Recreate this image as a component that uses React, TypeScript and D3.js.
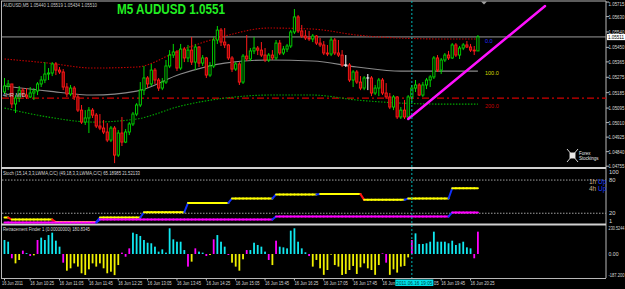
import React from 'react'
import * as d3 from 'd3'

const W = 625
const H = 289
const FONT = '"Liberation Sans", Arial, sans-serif'

// AUDUSD M5, 16 Jun 2011, first bar 09:50, one bar every 5 minutes
const firstOpen = 1.05189
const closes = [
  1.05224, 1.05236, 1.05119, 1.05154, 1.05200, 1.05171, 1.05160, 1.05183, 1.05195, 1.05236,
  1.05259, 1.05294, 1.05300, 1.05353, 1.05317, 1.05306, 1.05218, 1.05177, 1.05212, 1.05160,
  1.05083, 1.05013, 1.05037, 1.05083, 1.05054, 1.04990, 1.04978, 1.04955, 1.04908, 1.04978,
  1.04820, 1.04949, 1.04896, 1.04955, 1.05002, 1.05060, 1.05113, 1.05200, 1.05271, 1.05236,
  1.05317, 1.05259, 1.05212, 1.05247, 1.05341, 1.05405, 1.05423, 1.05329, 1.05440, 1.05388,
  1.05434, 1.05364, 1.05452, 1.05358, 1.05388, 1.05288, 1.05341, 1.05493, 1.05551, 1.05481,
  1.05464, 1.05388, 1.05323, 1.05353, 1.05247, 1.05399, 1.05382, 1.05429, 1.05446, 1.05434,
  1.05405, 1.05376, 1.05405, 1.05388, 1.05475, 1.05417, 1.05440, 1.05458, 1.05540, 1.05628,
  1.05546, 1.05516, 1.05505, 1.05499, 1.05516, 1.05475, 1.05464, 1.05417, 1.05411, 1.05493,
  1.05417, 1.05405, 1.05347, 1.05347, 1.05259, 1.05306, 1.05247, 1.05212, 1.05271, 1.05271,
  1.05183, 1.05212, 1.05259, 1.05183, 1.05160, 1.05101, 1.05160, 1.05043, 1.05083, 1.05043,
  1.05160, 1.05212, 1.05230, 1.05171, 1.05230, 1.05259, 1.05277, 1.05388, 1.05317, 1.05376,
  1.05405, 1.05388, 1.05464, 1.05405, 1.05446, 1.05464, 1.05452, 1.05434, 1.05429, 1.05511,
]
const highs = [
  1.05271, 1.05259, 1.05236, 1.05171, 1.05224, 1.05212, 1.05212, 1.05218, 1.05212, 1.05247,
  1.05282, 1.05364, 1.05329, 1.05364, 1.05364, 1.05335, 1.05323, 1.05241, 1.05230, 1.05224,
  1.05177, 1.05113, 1.05083, 1.05101, 1.05095, 1.05066, 1.05060, 1.05025, 1.05007, 1.04990,
  1.04990, 1.04966, 1.05043, 1.04972, 1.05013, 1.05072, 1.05124, 1.05247, 1.05341, 1.05282,
  1.05353, 1.05329, 1.05271, 1.05271, 1.05376, 1.05434, 1.05470, 1.05434, 1.05470, 1.05452,
  1.05464, 1.05511, 1.05470, 1.05458, 1.05405, 1.05394, 1.05364, 1.05511, 1.05575, 1.05563,
  1.05563, 1.05470, 1.05399, 1.05364, 1.05364, 1.05411, 1.05522, 1.05446, 1.05511, 1.05458,
  1.05481, 1.05446, 1.05417, 1.05434, 1.05493, 1.05493, 1.05458, 1.05470, 1.05551, 1.05674,
  1.05639, 1.05581, 1.05551, 1.05546, 1.05528, 1.05522, 1.05505, 1.05487, 1.05464, 1.05511,
  1.05505, 1.05493, 1.05434, 1.05405, 1.05358, 1.05317, 1.05317, 1.05282, 1.05282, 1.05294,
  1.05282, 1.05230, 1.05271, 1.05271, 1.05241, 1.05183, 1.05171, 1.05165, 1.05101, 1.05142,
  1.05171, 1.05230, 1.05259, 1.05241, 1.05247, 1.05271, 1.05288, 1.05399, 1.05405, 1.05388,
  1.05417, 1.05429, 1.05475, 1.05475, 1.05458, 1.05475, 1.05487, 1.05470, 1.05458, 1.05522,
]
const lows = [
  1.05177, 1.05200, 1.05095, 1.05066, 1.05130, 1.05160, 1.05148, 1.05154, 1.05142, 1.05171,
  1.05218, 1.05241, 1.05259, 1.05282, 1.05288, 1.05294, 1.05200, 1.05160, 1.05165, 1.05142,
  1.05072, 1.05002, 1.04996, 1.04949, 1.05037, 1.04978, 1.04966, 1.04943, 1.04896, 1.04896,
  1.04773, 1.04809, 1.04873, 1.04890, 1.04937, 1.04990, 1.05048, 1.05101, 1.05171, 1.05212,
  1.05224, 1.05236, 1.05195, 1.05200, 1.05236, 1.05329, 1.05388, 1.05312, 1.05317, 1.05364,
  1.05364, 1.05347, 1.05317, 1.05335, 1.05341, 1.05271, 1.05277, 1.05329, 1.05470, 1.05458,
  1.05446, 1.05376, 1.05306, 1.05312, 1.05230, 1.05236, 1.05370, 1.05370, 1.05411, 1.05405,
  1.05394, 1.05364, 1.05364, 1.05376, 1.05376, 1.05405, 1.05405, 1.05423, 1.05446, 1.05528,
  1.05534, 1.05505, 1.05493, 1.05487, 1.05481, 1.05464, 1.05452, 1.05405, 1.05399, 1.05399,
  1.05405, 1.05394, 1.05335, 1.05335, 1.05247, 1.05218, 1.05236, 1.05200, 1.05200, 1.05200,
  1.05165, 1.05171, 1.05165, 1.05171, 1.05148, 1.05089, 1.05083, 1.05031, 1.05031, 1.05031,
  1.05031, 1.05130, 1.05189, 1.05165, 1.05160, 1.05206, 1.05218, 1.05265, 1.05306, 1.05294,
  1.05364, 1.05376, 1.05382, 1.05394, 1.05382, 1.05434, 1.05446, 1.05423, 1.05405, 1.05429,
]

// channel (read at these bars)
const bandBars = [0, 12, 24, 36, 48, 60, 72, 84, 96, 108, 120, 129]
const bandUpper = [1.05382, 1.05358, 1.05329, 1.05335, 1.05434, 1.05516, 1.05563, 1.05557, 1.05522, 1.05504, 1.05499, 1.05499]
const bandMid = [1.05224, 1.05194, 1.05171, 1.05194, 1.05294, 1.05358, 1.05376, 1.05370, 1.05335, 1.05311, 1.05311, 1.05311]
const bandLower = [1.05095, 1.05042, 1.05013, 1.05031, 1.05107, 1.05153, 1.05171, 1.05171, 1.05142, 1.05124, 1.05118, 1.05118]

const pivotPrice = 1.05153
const bidPrice = 1.05511

const trendStart = { bar: 110, price: 1.05031 }
const trendEnd = { bar: 147.3, price: 1.05692 }

const fibLabels = ['0.0', '100.0', '200.0']
const fibPrices = [1.05487, 1.05300, 1.05107]
const fibColors = ['#2a2aff', '#d8d800', '#c80000']

const priceTicks = [1.05715, 1.0563, 1.0554, 1.0545, 1.05365, 1.05275, 1.05185, 1.05095, 1.0501, 1.04925, 1.0484, 1.04755]

// 1h stochastic, one value per hour (09:00 .. 20:00)
const stochMainH1 = [12.2, 8.5, 4.2, 12.2, 21.8, 38.7, 46.7, 54.0, 54.6, 44.2, 46.7, 65.19]
const stochSignalH1 = [3.1, 3.1, 3.1, 8.5, 8.5, 8.5, 8.5, 14.0, 14.0, 14.0, 14.0, 21.52]
const stochLevels = [80, 20]
const stochLabels = ['100', '80', '20', '1']
const stochLabelValues = [100, 80, 20, 0]

// Retracement Finder histogram, one value per bar
const retrace = [
  124, 109, -38, -83, -53, 30, 8, -18, -12, 124,
  145, 124, 168, 189, 118, 65, -77, -148, -127, -83,
  -112, -171, -186, -136, -83, -112, -83, -127, -171, -157,
  -190, -98, 12, -24, 50, 189, 177, 160, 124, 100,
  95, 65, 21, 41, 12, 228, 130, 109, 109, 35,
  -112, -68, 50, 21, 12, -18, -9, 130, 168, 109,
  65, -9, -77, -112, -148, -47, 35, 35, 100, 80,
  65, 21, -53, -98, 118, 65, 59, 50, 207, 228,
  109, 50, 15, -18, -112, -53, -127, -185, -142, -6,
  -98, -112, -186, -177, -142, -106, -177, -118, -83, -127,
  -142, -185, -98, 6, -77, -185, -136, -165, -112, -106,
  -30, 124, 183, 89, 89, 95, 109, 198, 109, 109,
  109, 95, 118, 80, 95, 109, 59, 50, -38, 198,
]
const retraceTicks = ['230.5244', '0.00', '-187.200']
const retraceTickValues = [230.5244, 0, -187.2]

const timeBars = [0, 7, 15, 23, 31, 39, 47, 55, 63, 71, 79, 87, 95, 103, 119, 127]
const timeLabels = [
  '16 Jun 2011', '16 Jun 10:25', '16 Jun 11:05', '16 Jun 11:45', '16 Jun 12:25', '16 Jun 13:05',
  '16 Jun 13:45', '16 Jun 14:25', '16 Jun 15:05', '16 Jun 15:45', '16 Jun 16:25', '16 Jun 17:05',
  '16 Jun 17:45', '16 Jun 18:25', '16 Jun 19:45', '16 Jun 20:25',
]
const cursorBar = 111
const cursorLabel = '2011.06.16 19:05'

const hourOf = (i: number) => Math.floor((i + 10) / 12)

export default function App() {
  const x = d3.scaleLinear().domain([0, 129]).range([4.5, 477.9])
  const yMain = d3.scaleLinear().domain([1.04755, 1.05715]).range([166.2, 2.05])
  const yStoch = d3.scaleLinear().domain([0, 100]).range([224.3, 169])
  const yRetr = d3.scaleLinear().domain([-187.2, 230.5244]).range([275.1, 228]).clamp(true)

  const band = d3.line<number>()
    .x((_, i) => x(bandBars[i]))
    .y(d => yMain(d))
    .curve(d3.curveMonotoneX)

  const stochMain = closes.map((_, i) => stochMainH1[hourOf(i)])
  const stochSignal = closes.map((_, i) => stochSignalH1[hourOf(i)])

  const seg = (vals: number[], flat: string) =>
    vals.slice(1).map((v, k) => {
      const p = vals[k]
      const col = v > p ? '#1030ff' : v < p ? '#ff1010' : flat
      return (
        <line key={k} x1={x(k)} x2={x(k + 1)} y1={yStoch(p)} y2={yStoch(v)}
          stroke={col} strokeWidth={2} strokeLinecap="round" />
      )
    })

  const grey = '#b8b8b8'
  const txt = '#d8d8d8'
  const boxLeft = x(cursorBar) - 16.5

  return (
    <svg width={W} height={H} style={{ position: 'fixed', left: 0, top: 0, background: '#000' }}
      fontFamily={FONT}>
      <defs>
        <clipPath id="beforeCursorBox">
          <rect x={0} y={270} width={boxLeft} height={19} />
        </clipPath>
      </defs>
      <rect width={W} height={H} fill="#000" />

      {/* frame and panel separators */}
      <line x1={1} x2={606} y1={1} y2={1} stroke={grey} />
      <line x1={1.5} x2={1.5} y1={1} y2={278} stroke={grey} />
      <line x1={606} x2={606} y1={1} y2={278} stroke={grey} />
      <line x1={1} x2={606} y1={168} y2={168} stroke="#d0d0d0" strokeWidth={2} />
      <line x1={1} x2={606} y1={224.5} y2={224.5} stroke="#d0d0d0" strokeWidth={2} />
      <line x1={1} x2={606} y1={278.5} y2={278.5} stroke={grey} />

      {/* main panel */}
      <text x={3} y={6.5} fontSize={5.5} fill="#c8c8c8" textLength={94} lengthAdjust="spacingAndGlyphs">
        AUDUSD,M5 1.05440 1.05519 1.05434 1.05510
      </text>
      <text x={117} y={13.6} fontSize={14} fontWeight="bold" fill="#22ee22" textLength={108}
        lengthAdjust="spacingAndGlyphs">M5 AUDUSD 1.0551</text>

      <line x1={2} x2={606} y1={yMain(pivotPrice)} y2={yMain(pivotPrice)} stroke="#d00000"
        strokeWidth={1.2} strokeDasharray="7,3,2,3" />
      <line x1={2} x2={606} y1={yMain(bidPrice)} y2={yMain(bidPrice)} stroke="#9a9a9a" />

      <path d={band(bandUpper) || ''} fill="none" stroke="#c00000" strokeWidth={1.1} strokeDasharray="1.5,1.5" />
      <path d={band(bandMid) || ''} fill="none" stroke="#8a8a8a" strokeWidth={1.1} />
      <path d={band(bandLower) || ''} fill="none" stroke="#00a800" strokeWidth={1.1} strokeDasharray="1.5,1.5" />

      {closes.map((c, i) => {
        const o = i === 0 ? firstOpen : closes[i - 1]
        const cx = x(i)
        const doji = Math.abs(c - o) < 1e-7
        const up = c > o
        const col = doji ? '#ffffff' : up ? '#00d800' : '#ff1a1a'
        const top = yMain(Math.max(o, c))
        const bot = yMain(Math.min(o, c))
        return (
          <g key={i}>
            <line x1={cx} x2={cx} y1={yMain(highs[i])} y2={yMain(lows[i])} stroke={col} strokeWidth={1} />
            {doji ? (
              <line x1={cx - 1.5} x2={cx + 1.5} y1={top} y2={top} stroke={col} />
            ) : (
              <rect x={cx - 1.1} y={top} width={2.2} height={Math.max(bot - top, 0.8)}
                fill={up ? '#000' : '#8a0000'} stroke={col} strokeWidth={0.9} />
            )}
          </g>
        )
      })}

      <text x={3} y={97} fontSize={5.5} fill="#d0d0d0">4HR MID</text>

      {fibLabels.map((l, i) => (
        <text key={l} x={485} y={yMain(fibPrices[i]) + 2} fontSize={5.5} fill={fibColors[i]}>{l}</text>
      ))}

      <line x1={x(trendStart.bar)} y1={yMain(trendStart.price)} x2={x(trendEnd.bar)} y2={yMain(trendEnd.price)}
        stroke="#ff10ff" strokeWidth={2.4} strokeLinecap="round" />

      <path d="M481,1.5 L487,1.5 L484,4.5 Z" fill="#a0a0a0" />

      {/* logo */}
      <g transform="translate(567,148)" stroke="#e8e8e8" strokeWidth={0.9} fill="none">
        <line x1={0} y1={1} x2={11} y2={14} />
        <line x1={11} y1={1} x2={0} y2={14} />
        <rect x={3} y={5} width={5} height={5} fill="#e8e8e8" />
        <text x={12} y={7} fontSize={4.5} fill="#e8e8e8" stroke="none">Forex</text>
        <text x={12} y={12} fontSize={4.5} fill="#e8e8e8" stroke="none">Stockings</text>
      </g>

      {/* price axis */}
      {priceTicks.map(p => (
        <g key={p}>
          <line x1={606} x2={609} y1={yMain(p)} y2={yMain(p)} stroke={grey} />
          <text x={608.5} y={Math.max(yMain(p), 3.5) + 2} fontSize={5.8} fill={txt} textLength={16}
            lengthAdjust="spacingAndGlyphs">{p.toFixed(5)}</text>
        </g>
      ))}
      <rect x={607} y={yMain(bidPrice) - 3} width={18} height={6.2} fill="#ffffff" />
      <text x={608} y={yMain(bidPrice) + 2} fontSize={5.8} fill="#000" textLength={16}
        lengthAdjust="spacingAndGlyphs">{bidPrice.toFixed(5)}</text>

      {/* stochastic panel */}
      <text x={3} y={174.5} fontSize={5.6} fill={txt} textLength={137} lengthAdjust="spacingAndGlyphs">
        Stoch (15,14,3,3,LWMA,C/C) (49,18,3,3,LWMA,C/C) 65.18985 21.52133
      </text>
      {stochLevels.map(v => (
        <line key={v} x1={2} x2={606} y1={yStoch(v)} y2={yStoch(v)} stroke="#a0a0a0" strokeDasharray="1.5,1.5" />
      ))}
      {seg(stochMain, '#ffff00')}
      {seg(stochSignal, '#ff00ff')}
      {stochLabels.map((l, i) => (
        <text key={l} x={609} y={Math.min(Math.max(yStoch(stochLabelValues[i]), 172), 221) + 2}
          fontSize={5.8} fill={txt}>{l}</text>
      ))}
      <text x={589} y={184} fontSize={6.5}><tspan fill="#c8b088">1h </tspan><tspan fill="#1a3cff">Up</tspan></text>
      <text x={589} y={191} fontSize={6.5}><tspan fill="#c8b088">4h </tspan><tspan fill="#1a3cff">Up</tspan></text>

      {/* retracement finder panel */}
      <text x={3} y={231} fontSize={5.6} fill={txt} textLength={87} lengthAdjust="spacingAndGlyphs">
        Retracement Finder 1 (0.00000000) 180.8345
      </text>
      {retrace.map((v, i) => {
        const prev = i > 0 ? retrace[i - 1] : v
        const turn = Math.sign(prev) !== Math.sign(v)
        const col = turn ? '#ff00ff' : v > 0 ? '#10e8f0' : '#f0f000'
        const y0 = yRetr(0)
        const y1 = yRetr(v)
        return <rect key={i} x={x(i) - 0.9} y={Math.min(y0, y1)} width={1.8} height={Math.abs(y1 - y0)} fill={col} />
      })}
      {retraceTicks.map((l, i) => (
        <text key={l} x={608.5} y={yRetr(retraceTickValues[i]) + 2} fontSize={5.8} fill={txt}
          textLength={l.length > 5 ? 16 : 10} lengthAdjust="spacingAndGlyphs">{l}</text>
      ))}

      {/* cursor */}
      <line x1={x(cursorBar)} x2={x(cursorBar)} y1={1} y2={278} stroke="#00b8b8" strokeDasharray="2,2" />

      {/* time axis */}
      {timeBars.map((b, i) => (
        <g key={b}>
          <line x1={x(b)} x2={x(b)} y1={278} y2={280.5} stroke={grey} />
          <text x={i === 0 ? 2 : x(b)} y={284.5} fontSize={5.6} fill={txt} textLength={i === 0 ? 21 : 24}
            lengthAdjust="spacingAndGlyphs"
            clipPath={x(b) + 24 > boxLeft && x(b) < boxLeft ? 'url(#beforeCursorBox)' : undefined}>
            {timeLabels[i]}
          </text>
        </g>
      ))}
      <g>
        <rect x={boxLeft} y={279.5} width={38} height={6.5} fill="#00e0e8" />
        <text x={boxLeft + 1} y={284.6} fontSize={5.6} fill="#004040" textLength={36}
          lengthAdjust="spacingAndGlyphs">{cursorLabel}</text>
        <text x={boxLeft + 38.5} y={284.5} fontSize={5.6} fill={txt} textLength={5}
          lengthAdjust="spacingAndGlyphs">05</text>
      </g>
    </svg>
  )
}
